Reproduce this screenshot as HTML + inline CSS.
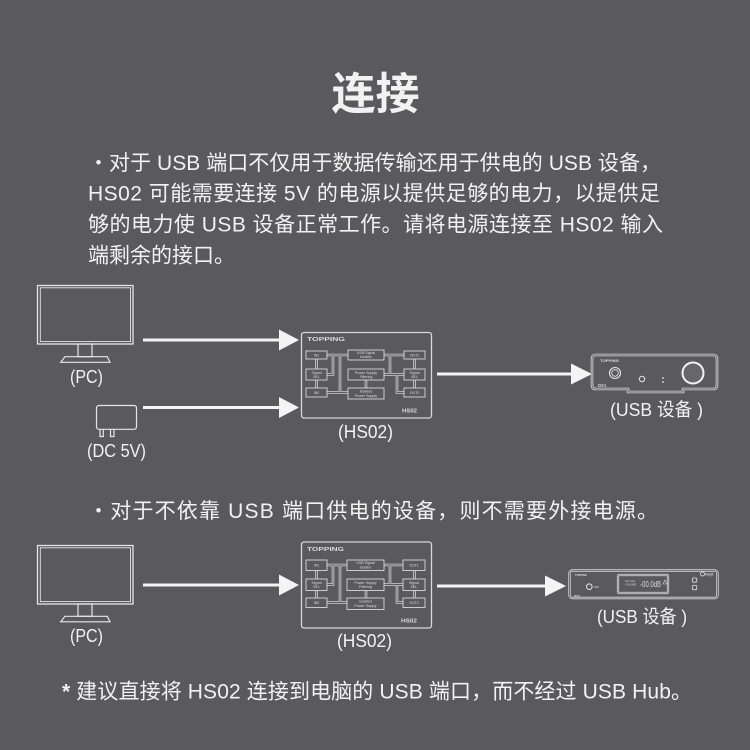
<!DOCTYPE html>
<html><head><meta charset="utf-8"><style>
html,body{margin:0;padding:0;background:#5a5a5e;}
svg{display:block}
.t{font-family:"Liberation Sans","Noto Sans CJK SC",sans-serif;fill:#f2f2f2;}
.s{font-family:"Liberation Sans",sans-serif;fill:#dcdcdc;}
</style></head><body>
<svg width="750" height="750" viewBox="0 0 750 750" xmlns="http://www.w3.org/2000/svg">
<rect width="750" height="750" fill="#5a5a5e"/>

<!-- Title -->
<text class="t" x="375.5" y="109" font-size="44" font-weight="bold" text-anchor="middle" fill="#ffffff">连接</text>

<!-- Paragraph -->
<text class="t" x="88" y="170" font-size="21" textLength="573" lengthAdjust="spacing">・对于 USB 端口不仅用于数据传输还用于供电的 USB 设备，</text>
<text class="t" x="88" y="200.5" font-size="21" textLength="572" lengthAdjust="spacing">HS02 可能需要连接 5V 的电源以提供足够的电力，以提供足</text>
<text class="t" x="88" y="231.5" font-size="21" textLength="575" lengthAdjust="spacing">够的电力使 USB 设备正常工作。请将电源连接至 HS02 输入</text>
<text class="t" x="88" y="262.5" font-size="21">端剩余的接口。</text>

<!-- Monitor 1 -->
<g fill="none" stroke="#e6e6e6">
  <rect x="37.5" y="285.5" width="95.5" height="58.5" stroke-width="1.3"/>
  <rect x="40.3" y="287.8" width="90.2" height="53.8" stroke-width="0.9"/>
  <rect x="78" y="344" width="14" height="12.7" stroke-width="1.2"/>
  <polygon points="65,356.7 107.3,356.7 110,362.3 60.7,362.3" stroke-width="1.2"/>
</g>
<text class="t" x="70" y="383" font-size="18.5" textLength="33" lengthAdjust="spacingAndGlyphs">(PC)</text>

<!-- Power adapter -->
<g fill="none" stroke="#e6e6e6" stroke-width="1.2">
  <rect x="96.5" y="405.5" width="40" height="23.8" rx="2.5"/>
  <path d="M100,429.3 V436.5 H103.3 V429.3 M110.5,429.3 V436.5 H114 V429.3"/>
</g>
<text class="t" x="87" y="457" font-size="18.5" textLength="59" lengthAdjust="spacingAndGlyphs">(DC 5V)</text>

<!-- Arrows diagram 1 -->
<g fill="#f4f4f4" stroke="#f4f4f4">
  <line x1="143" y1="340" x2="281" y2="340" stroke-width="3"/>
  <polygon points="279,329.5 299,340 279,350.5" stroke="none"/>
  <line x1="143" y1="407.5" x2="281" y2="407.5" stroke-width="3"/>
  <polygon points="279,397 299,407.5 279,418" stroke="none"/>
  <line x1="437" y1="374" x2="573" y2="374" stroke-width="3"/>
  <polygon points="571,363.5 592,374 571,384.5" stroke="none"/>
</g>

<!-- HS02 box 1 -->
<g transform="translate(301,332)">
  <rect x="0.5" y="0.5" width="130" height="85.5" rx="2.5" fill="none" stroke="#d8d8d8" stroke-width="1.3"/>
  <text class="s" x="6" y="8.8" font-size="5.8" font-weight="bold" textLength="38" lengthAdjust="spacingAndGlyphs">TOPPING</text>
  <text class="s" x="101" y="80.4" font-size="5.8" font-weight="bold" textLength="15" lengthAdjust="spacingAndGlyphs">HS02</text>
  <g fill="none">
    <path d="M26,23 H47 M32,23 V42.5 H26 M39,23 V60.5 M26,60.5 H47 M15.5,27 V37 M15.5,48 V56 M83,23 H103 M89,23 V42.5 H103 M83,42.5 H96 V60.5 H103 M113.5,27 V37 M113.5,48 V56 M65,48 V56" stroke="#cfcfcf" stroke-width="2.6"/>
    <path d="M26,23 H47 M32,23 V42.5 H26 M39,23 V60.5 M26,60.5 H47 M15.5,27 V37 M15.5,48 V56 M83,23 H103 M89,23 V42.5 H103 M83,42.5 H96 V60.5 H103 M113.5,27 V37 M113.5,48 V56 M65,48 V56" stroke="#5a5a5e" stroke-width="0.9"/>
  </g>
  <g fill="#5a5a5e" stroke="#d8d8d8" stroke-width="0.9">
    <rect x="5" y="19" width="21" height="8"/>
    <rect x="5" y="37" width="21" height="11"/>
    <rect x="5" y="56" width="21" height="9"/>
    <rect x="47" y="18" width="36" height="10"/>
    <rect x="47" y="37" width="36" height="11"/>
    <rect x="47" y="56" width="36" height="11"/>
    <rect x="103" y="19" width="21" height="8"/>
    <rect x="103" y="37" width="21" height="11"/>
    <rect x="103" y="56" width="21" height="9"/>
  </g>
  <g class="s" font-size="3.6" text-anchor="middle">
    <text x="15.5" y="24.3">IN1</text>
    <text x="15.5" y="41.8">Signal</text><text x="15.5" y="46">SEL</text>
    <text x="15.5" y="61.8">IN2</text>
    <text x="65" y="22.2">USB Signal</text><text x="65" y="26.2">Isolator</text>
    <text x="65" y="41.8">Power Supply</text><text x="65" y="46">Filtering</text>
    <text x="65" y="60.6">Isolated</text><text x="65" y="64.8">Power Supply</text>
    <text x="113.5" y="24.3">OUT1</text>
    <text x="113.5" y="41.8">Signal</text><text x="113.5" y="46">SEL</text>
    <text x="113.5" y="61.8">OUT2</text>
  </g>
</g>
<text class="t" x="338" y="438" font-size="18.5" textLength="55" lengthAdjust="spacingAndGlyphs">(HS02)</text>

<!-- DX1 device -->
<g fill="none">
  <path d="M596,355 H713 Q717,355 717,359 V385 Q717,389 713,389 H683 V392 H628 V389 H596 Q592,389 592,385 V359 Q592,355 596,355 Z" stroke="#d8d8d8" stroke-width="2.6"/>
  <path d="M596,355 H713 Q717,355 717,359 V385 Q717,389 713,389 H683 V392 H628 V389 H596 Q592,389 592,385 V359 Q592,355 596,355 Z" stroke="#5a5a5e" stroke-width="0.9"/>
  <circle cx="615" cy="373" r="5.5" stroke="#e6e6e6" stroke-width="1.1"/>
  <circle cx="615" cy="373" r="3.3" stroke="#e6e6e6" stroke-width="0.8"/>
  <circle cx="642" cy="379" r="2.7" stroke="#e6e6e6" stroke-width="1"/>
  <circle cx="693" cy="373" r="10.5" stroke="#f2f2f2" stroke-width="2" fill="#67666b"/>
</g>
<circle cx="663" cy="378" r="0.9" fill="#e6e6e6"/>
<circle cx="663" cy="382" r="0.9" fill="#e6e6e6"/>
<text class="s" x="600" y="362" font-size="3.5" font-weight="bold" textLength="19" lengthAdjust="spacingAndGlyphs">TOPPING</text>
<text class="s" x="598" y="387" font-size="4.2" font-weight="bold">DX1</text>
<text class="t" x="610" y="416" font-size="18.5" textLength="93" lengthAdjust="spacingAndGlyphs">(USB 设备 )</text>

<!-- Section 2 text -->
<text class="t" x="88" y="518" font-size="21" textLength="570" lengthAdjust="spacing">・对于不依靠 USB 端口供电的设备，则不需要外接电源。</text>

<!-- Monitor 2 -->
<g fill="none" stroke="#e6e6e6">
  <rect x="37.5" y="545.5" width="95.5" height="58.5" stroke-width="1.3"/>
  <rect x="40.3" y="547.8" width="90.2" height="53.8" stroke-width="0.9"/>
  <rect x="78" y="604" width="14" height="12.3" stroke-width="1.2"/>
  <polygon points="65,616.3 107.3,616.3 110,621.8 60.7,621.8" stroke-width="1.2"/>
</g>
<text class="t" x="70" y="642" font-size="18.5" textLength="33" lengthAdjust="spacingAndGlyphs">(PC)</text>

<!-- Arrows diagram 2 -->
<g fill="#f4f4f4" stroke="#f4f4f4">
  <line x1="143" y1="585" x2="281" y2="585" stroke-width="3"/>
  <polygon points="279,574.5 299,585 279,595.5" stroke="none"/>
  <line x1="437" y1="586" x2="547" y2="586" stroke-width="3"/>
  <polygon points="545,575.5 566,586 545,596.5" stroke="none"/>
</g>

<!-- HS02 box 2 -->
<g transform="translate(301,541.5)">
  <rect x="0.5" y="0.5" width="130" height="86" rx="2.5" fill="none" stroke="#d8d8d8" stroke-width="1.3"/>
  <text class="s" x="6" y="9.5" font-size="5.8" font-weight="bold" textLength="37" lengthAdjust="spacingAndGlyphs">TOPPING</text>
  <text class="s" x="100" y="80.8" font-size="5.8" font-weight="bold" textLength="16" lengthAdjust="spacingAndGlyphs">HS02</text>
  <g fill="none">
    <path d="M26,23.5 H47 M32,23.5 V43 H26 M39,23.5 V61 M26,61 H47 M15.5,29 V38 M15.5,49 V57 M83,23.5 H103 M89,23.5 V43 H103 M83,43 H96 V61 H103 M113.5,29 V38 M113.5,49 V57 M65,49 V57" stroke="#cfcfcf" stroke-width="2.6"/>
    <path d="M26,23.5 H47 M32,23.5 V43 H26 M39,23.5 V61 M26,61 H47 M15.5,29 V38 M15.5,49 V57 M83,23.5 H103 M89,23.5 V43 H103 M83,43 H96 V61 H103 M113.5,29 V38 M113.5,49 V57 M65,49 V57" stroke="#5a5a5e" stroke-width="0.9"/>
  </g>
  <g fill="#5a5a5e" stroke="#d8d8d8" stroke-width="0.9">
    <rect x="5" y="18.5" width="21" height="10.5"/>
    <rect x="5" y="37.5" width="21" height="11.5"/>
    <rect x="5" y="56.5" width="21" height="9.5"/>
    <rect x="46" y="18.5" width="37" height="10.5"/>
    <rect x="46" y="37.5" width="37" height="11.5"/>
    <rect x="46" y="56.5" width="37" height="11.5"/>
    <rect x="102" y="18.5" width="22" height="10.5"/>
    <rect x="102" y="37.5" width="22" height="11.5"/>
    <rect x="102" y="56.5" width="22" height="9.5"/>
  </g>
  <g class="s" font-size="3.6" text-anchor="middle">
    <text x="15.5" y="25">IN1</text>
    <text x="15.5" y="42.3">Signal</text><text x="15.5" y="46.5">SEL</text>
    <text x="15.5" y="62.5">IN2</text>
    <text x="64.5" y="22.7">USB Signal</text><text x="64.5" y="26.8">Isolator</text>
    <text x="64.5" y="42.3">Power Supply</text><text x="64.5" y="46.5">Filtering</text>
    <text x="64.5" y="61.2">Isolated</text><text x="64.5" y="65.4">Power Supply</text>
    <text x="113" y="25">OUT1</text>
    <text x="113" y="42.3">Signal</text><text x="113" y="46.5">SEL</text>
    <text x="113" y="62.5">OUT2</text>
  </g>
</g>
<text class="t" x="337" y="647" font-size="18.5" textLength="55" lengthAdjust="spacingAndGlyphs">(HS02)</text>

<!-- D50 device -->
<g fill="none">
  <rect x="569.5" y="570.5" width="148" height="27.5" rx="3" stroke="#d8d8d8" stroke-width="2.4"/>
  <rect x="569.5" y="570.5" width="148" height="27.5" rx="3" stroke="#5a5a5e" stroke-width="0.8"/>
  <rect x="618" y="575" width="50" height="18" rx="1" stroke="#e0e0e0" stroke-width="2.2"/>
  <rect x="618" y="575" width="50" height="18" rx="1" stroke="#5a5a5e" stroke-width="0.7"/>
  <circle cx="589.3" cy="586.7" r="2.8" stroke="#e6e6e6" stroke-width="1"/>
  <rect x="692.3" y="578" width="4.4" height="4.2" rx="0.8" stroke="#e6e6e6" stroke-width="0.8"/>
  <rect x="692.3" y="585.5" width="4.4" height="4.2" rx="0.8" stroke="#e6e6e6" stroke-width="0.8"/>
  <circle cx="702.5" cy="574" r="2" stroke="#e6e6e6" stroke-width="0.8"/>
</g>
<line x1="594" y1="587" x2="599" y2="587" stroke="#d8d8d8" stroke-width="0.8"/>
<text class="s" x="575" y="576" font-size="3" font-weight="bold" textLength="12" lengthAdjust="spacingAndGlyphs">TOPPING</text>
<text class="s" x="574" y="597" font-size="3" font-weight="bold">D50</text>
<text class="s" x="625" y="582" font-size="2.6">44.1 kHz</text>
<text class="s" x="625" y="585.5" font-size="2.6">VOLUME</text>
<text class="s" x="640" y="587" font-size="8" textLength="21" lengthAdjust="spacingAndGlyphs">-00.0dB</text>
<path d="M663,584 L665,580 L667,584 Z" fill="none" stroke="#dcdcdc" stroke-width="0.6"/>
<text class="s" x="705" y="575.5" font-size="3.5" font-weight="bold">mQA</text>
<text class="t" x="597" y="623" font-size="18.5" textLength="90" lengthAdjust="spacingAndGlyphs">(USB 设备 )</text>

<!-- Footer -->
<text class="t" x="62" y="698.5" font-size="21" textLength="630" lengthAdjust="spacing"><tspan font-weight="bold">*</tspan> 建议直接将 HS02 连接到电脑的 USB 端口，而不经过 USB Hub。</text>
</svg>
</body></html>
